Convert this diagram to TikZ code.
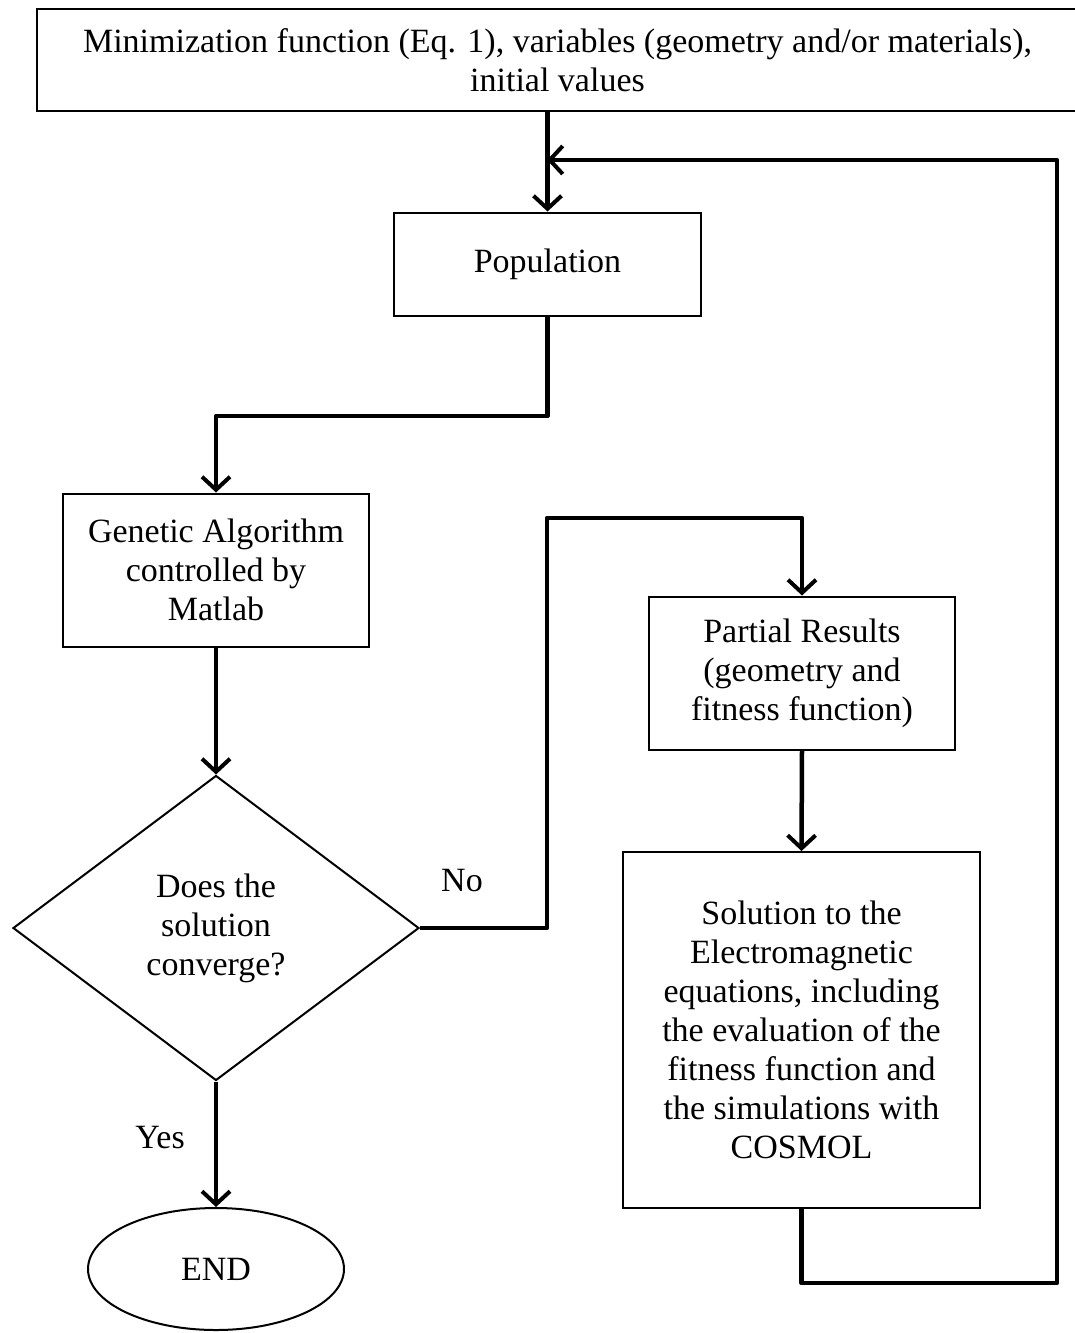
\documentclass[tikz,border=0pt]{standalone}
\usepackage{fontspec}
\setmainfont{Liberation Serif}
\usetikzlibrary{shapes.geometric,arrows.meta}
\begin{document}
\begin{tikzpicture}[x=1pt,y=-1pt,
  box/.style={draw, line width=2pt, rectangle, inner sep=0pt, align=center,
    font=\fontsize{34}{39}\selectfont},
  conn/.style={line width=4.5pt, line join=round,
    -{Straight Barb[length=13pt,width=28pt,line width=4pt]}},
  lbl/.style={inner sep=0pt, font=\fontsize{34}{39}\selectfont}]
\useasboundingbox (0,0) rectangle (1075,1333);
\node[box, minimum width=1041pt, minimum height=102pt] (top) at (557.5,60)
  {Minimization function (Eq. 1), variables (geometry and/or materials),\\initial values};
\node[box, minimum width=307pt, minimum height=103pt] (pop) at (547.5,264) {Population};
\node[box, minimum width=306pt, minimum height=153pt] (ga) at (216,570)
  {Genetic Algorithm\\controlled by\\Matlab};
\node[box, shape=diamond, minimum width=406pt, minimum height=305pt] (dia) at (216,928)
  {Does the\\solution\\converge?};
\node[box, minimum width=306pt, minimum height=153pt] (part) at (802,673)
  {Partial Results\\(geometry and\\fitness function)};
\node[box, minimum width=357pt, minimum height=356pt] (sol) at (801.5,1030)
  {Solution to the\\Electromagnetic\\equations, including\\the evaluation of the\\fitness function and\\the simulations with\\COSMOL};
\node[box, shape=ellipse, minimum width=256pt, minimum height=122pt] (end) at (216,1269) {END};
\node[lbl] (no) at (462,881) {No};
\node[lbl] (yes) at (160,1138) {Yes};
\coordinate (j1) at (216,416);
\coordinate (j2) at (547,518);
\coordinate (j3) at (1057,1283);
\coordinate (j4) at (547,160);
\draw[conn] (top.south -| pop.north) -- (pop.north);
\draw[conn] (pop.south) |- (j1) -- (ga.north);
\draw[conn] (ga.south) -- (dia.north);
\draw[conn] (dia.east) -| (j2) -| (part.north);
\draw[conn] (part.south) -- (sol.north);
\draw[conn] (sol.south) |- (j3) |- (j4);
\draw[conn] (dia.south) -- (end.north);
\end{tikzpicture}
\end{document}
